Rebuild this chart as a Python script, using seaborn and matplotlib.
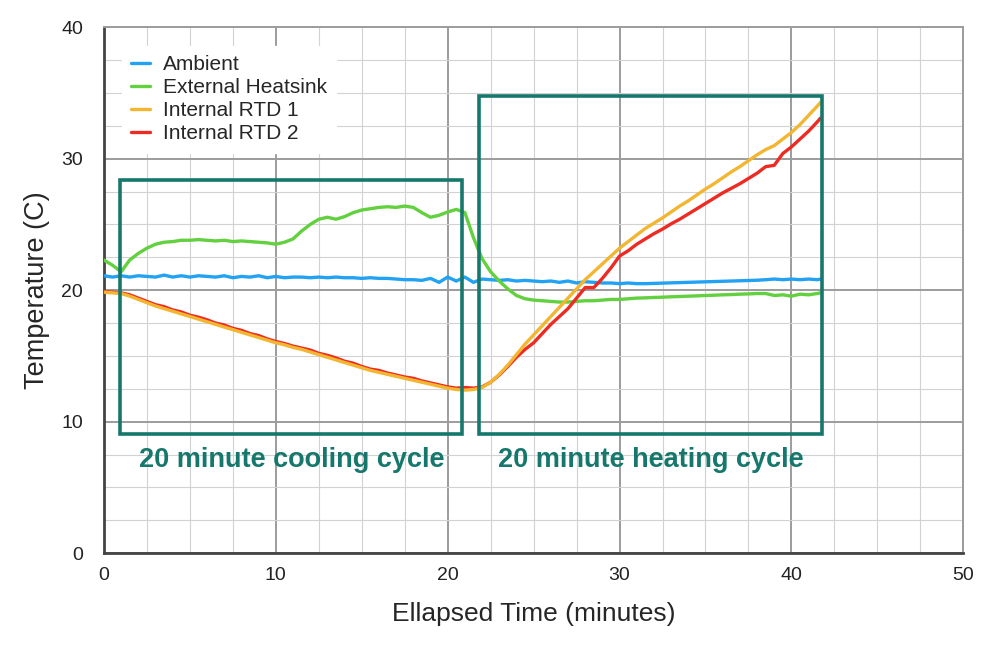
import numpy as np
import pandas as pd
import matplotlib
matplotlib.use("Agg")
import matplotlib.pyplot as plt
import seaborn as sns
from matplotlib.patches import Rectangle
from matplotlib.ticker import MultipleLocator

# time samples (minutes)
minutes = [0, 0.5, 1, 1.5, 2, 2.5, 3, 3.5, 4, 4.5, 5, 5.5, 6, 6.5, 7, 7.5, 8, 8.5, 9, 9.5,
           10, 10.5, 11, 11.5, 12, 12.5, 13, 13.5, 14, 14.5, 15, 15.5, 16, 16.5, 17, 17.5, 18, 18.5, 19, 19.5,
           20, 20.5, 21, 21.5, 22, 22.5, 23, 23.5, 24, 24.5, 25, 25.5, 26, 26.5, 27, 27.5, 28, 28.5, 29, 29.5,
           30, 30.5, 31, 31.5, 32, 32.5, 33, 33.5, 34, 34.5, 35, 35.5, 36, 36.5, 37, 37.5, 38, 38.5, 39, 39.5,
           40, 40.5, 41, 41.5, 41.7]

ambient = [21.1, 21.0, 21.1, 21.0, 21.1, 21.05, 21.0, 21.15, 21.0, 21.1, 21.0, 21.1, 21.05, 21.0, 21.1, 20.95, 21.05, 21.0, 21.1, 20.95,
           21.05, 20.95, 21.0, 21.0, 20.95, 21.0, 20.95, 21.0, 20.95, 20.95, 20.9, 20.95, 20.9, 20.9, 20.85, 20.8, 20.8, 20.75, 20.9, 20.6,
           21.0, 20.7, 21.0, 20.6, 20.85, 20.8, 20.75, 20.8, 20.7, 20.75, 20.7, 20.65, 20.7, 20.6, 20.7, 20.55, 20.65, 20.6, 20.55, 20.55,
           20.5, 20.55, 20.5, 20.5, 20.52, 20.54, 20.56, 20.58, 20.6, 20.62, 20.64, 20.66, 20.68, 20.7, 20.72, 20.74, 20.76, 20.8, 20.85, 20.8,
           20.85, 20.8, 20.85, 20.8, 20.85]

heatsink = [22.3, 21.9, 21.4, 22.3, 22.8, 23.2, 23.5, 23.65, 23.7, 23.8, 23.8, 23.85, 23.8, 23.75, 23.8, 23.7, 23.75, 23.7, 23.65, 23.6,
            23.5, 23.65, 23.9, 24.5, 25.0, 25.4, 25.55, 25.4, 25.6, 25.9, 26.1, 26.2, 26.3, 26.35, 26.3, 26.4, 26.3, 25.9, 25.55, 25.7,
            25.95, 26.15, 25.9, 24.0, 22.4, 21.4, 20.7, 20.1, 19.6, 19.35, 19.25, 19.2, 19.15, 19.1, 19.1, 19.15, 19.2, 19.2, 19.25, 19.3,
            19.3, 19.35, 19.4, 19.42, 19.45, 19.47, 19.5, 19.52, 19.55, 19.57, 19.6, 19.62, 19.65, 19.67, 19.7, 19.72, 19.75, 19.75, 19.6, 19.65,
            19.55, 19.7, 19.65, 19.75, 19.8]

rtd1 = [19.85, 19.8, 19.75, 19.55, 19.3, 19.05, 18.8, 18.6, 18.4, 18.2, 18.0, 17.8, 17.6, 17.4, 17.2, 17.0, 16.8, 16.6, 16.4, 16.2,
        16.0, 15.85, 15.65, 15.5, 15.3, 15.1, 14.9, 14.7, 14.5, 14.3, 14.1, 13.9, 13.75, 13.6, 13.45, 13.3, 13.15, 13.0, 12.85, 12.7,
        12.55, 12.45, 12.4, 12.45, 12.6, 13.0, 13.6, 14.3, 15.1, 15.9, 16.6, 17.3, 18.0, 18.7, 19.4, 20.1, 20.8, 21.4, 22.0, 22.6,
        23.2, 23.7, 24.2, 24.7, 25.1, 25.5, 25.95, 26.4, 26.8, 27.25, 27.7, 28.1, 28.55, 29.0, 29.4, 29.85, 30.3, 30.7, 31.0, 31.5,
        32.0, 32.6, 33.3, 34.0, 34.3]

rtd2 = [19.9, 19.85, 19.8, 19.65, 19.4, 19.15, 18.9, 18.75, 18.5, 18.35, 18.1, 17.95, 17.75, 17.5, 17.35, 17.1, 16.95, 16.7, 16.55, 16.3,
        16.1, 15.95, 15.75, 15.6, 15.45, 15.2, 15.05, 14.85, 14.6, 14.45, 14.2, 14.0, 13.9, 13.7, 13.55, 13.4, 13.3, 13.1, 12.95, 12.8,
        12.65, 12.55, 12.6, 12.55, 12.65, 13.0, 13.55, 14.2, 14.9, 15.5, 16.0, 16.7, 17.4, 18.0, 18.6, 19.4, 20.2, 20.2, 20.9, 21.7,
        22.6, 23.0, 23.5, 23.9, 24.3, 24.65, 25.05, 25.4, 25.8, 26.2, 26.6, 27.0, 27.4, 27.75, 28.1, 28.5, 28.9, 29.4, 29.5, 30.4,
        30.9, 31.5, 32.1, 32.8, 33.1]

series = ["Ambient", "External Heatsink", "Internal RTD 1", "Internal RTD 2"]
colors = ["#22a2f2", "#62d03f", "#f2b630", "#ee2b22"]
zorders = [3, 3, 5, 4]

# cycle annotation boxes: (x0, y0, x1, y1) and labels
boxes = [(0.93, 9.1, 20.84, 28.4), (21.8, 9.1, 41.8, 34.75)]
box_labels = ["20 minute cooling cycle", "20 minute heating cycle"]
label_pos = [(10.9, 7.05), (31.8, 7.05)]
teal = "#16786c"

df = pd.DataFrame({"minutes": minutes, "Ambient": ambient, "External Heatsink": heatsink,
                   "Internal RTD 1": rtd1, "Internal RTD 2": rtd2})

sns.set_style("white")
plt.rcParams["font.family"] = ["Liberation Sans", "DejaVu Sans"]

fig, ax = plt.subplots(figsize=(9.9, 6.5), dpi=100)
fig.subplots_adjust(left=0.105, right=0.973, top=0.958, bottom=0.149)

for name, c, z in zip(series, colors, zorders):
    sns.lineplot(data=df, x="minutes", y=name, color=c, lw=2.4, label=name, ax=ax, zorder=z)

for (x0, y0, x1, y1), txt, (tx, ty) in zip(boxes, box_labels, label_pos):
    ax.add_patch(Rectangle((x0, y0), x1 - x0, y1 - y0, fill=False, ec=teal, lw=2.6, zorder=6))
    ax.text(tx, ty, txt, color=teal, fontsize=19.5, fontweight="bold", ha="center", va="center", zorder=6)

ax.set_xlim(0, 50)
ax.set_ylim(0, 40)
ax.xaxis.set_major_locator(MultipleLocator(10))
ax.yaxis.set_major_locator(MultipleLocator(10))
ax.xaxis.set_minor_locator(MultipleLocator(2.5))
ax.yaxis.set_minor_locator(MultipleLocator(2.5))
ax.grid(which="major", color="#9c9c9c", lw=1.4)
ax.grid(which="minor", color="#d2d2d2", lw=0.8)
ax.set_axisbelow(True)
ax.tick_params(which="both", length=0, labelsize=14, labelcolor="#222222")
ax.tick_params(axis="x", pad=10)
ax.tick_params(axis="y", pad=15)

for s in ["left", "bottom"]:
    ax.spines[s].set_color("#444444")
    ax.spines[s].set_linewidth(2)
for s in ["top", "right"]:
    ax.spines[s].set_color("#9c9c9c")
    ax.spines[s].set_linewidth(1.4)

ax.set_xlabel("Ellapsed Time (minutes)", fontsize=19, labelpad=13)
ax.set_ylabel("Temperature (C)", fontsize=19.5, labelpad=8)

leg = ax.legend(loc="upper left", bbox_to_anchor=(0.009, 0.985), fontsize=15, frameon=True,
                handlelength=0.9, handletextpad=0.6, labelspacing=0.2, borderpad=0.45)
leg.get_frame().set_facecolor("white")
leg.get_frame().set_edgecolor("white")
leg.get_frame().set_alpha(1)
leg.get_frame().set_boxstyle("square", pad=0)
leg.set_zorder(7)

fig.savefig("out.png", dpi=100)
